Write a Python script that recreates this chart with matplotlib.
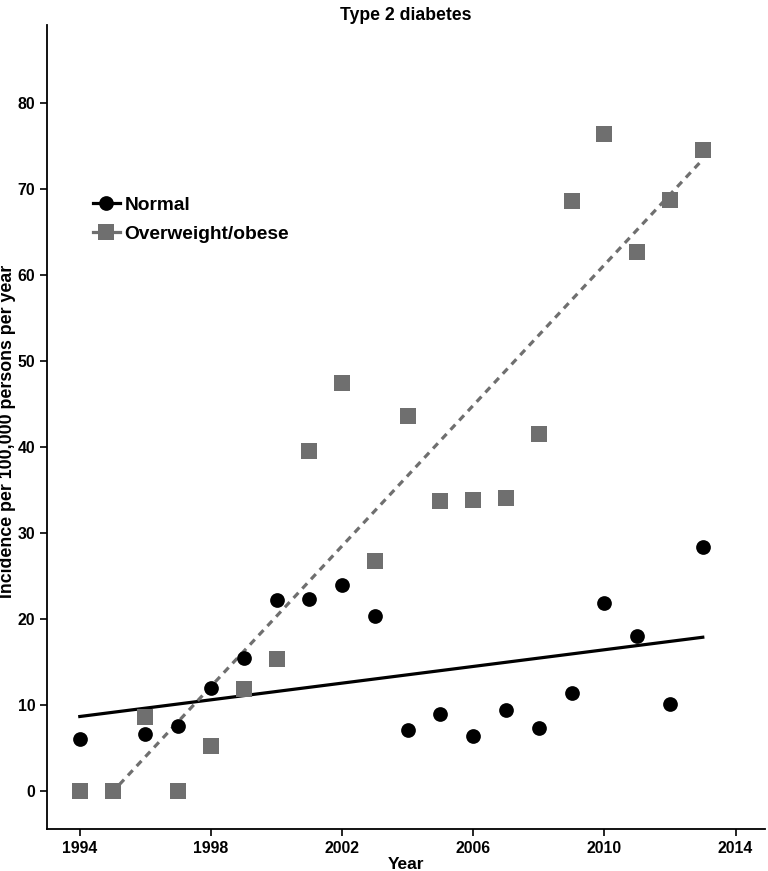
import numpy as np
import matplotlib
matplotlib.use("Agg")
import matplotlib.pyplot as plt

plt.rcParams['font.family'] = ['Liberation Sans', 'DejaVu Sans']
plt.rcParams['font.weight'] = 'bold'

years = np.arange(1994, 2014)
normal = [6.1, 0.0, 6.6, 7.6, 12.05, 15.5, 22.2, 22.3, 24.0, 20.4,
          7.1, 8.95, 6.4, 9.5, 7.4, 11.4, 21.9, 18.0, 10.1, 28.4]
overweight = [0.0, 0.0, 8.6, 0.0, 5.2, 11.9, 15.4, 39.6, 47.5, 26.8,
              43.6, 33.8, 33.9, 34.1, 41.5, 68.65, 76.4, 62.75, 68.8, 74.6]
xticks = [1994, 1998, 2002, 2006, 2010, 2014]
yticks = [0, 10, 20, 30, 40, 50, 60, 70, 80]

gray = '#6f6f6f'

fig = plt.figure(figsize=(7.68, 8.71), dpi=100)
ax = fig.add_axes([0.0612, 0.0482, 0.935, 0.923])

# linear fits like geom_smooth(method='lm'), values below 0 dropped
grid = np.linspace(years.min(), years.max(), 80)
fn = np.polyval(np.polyfit(years, normal, 1), grid)
fo = np.polyval(np.polyfit(years, overweight, 1), grid)
ax.plot(grid, fn, color='black', lw=2.3, zorder=2)
keep = fo >= 0
ax.plot(grid[keep], fo[keep], color=gray, lw=2.3, ls=(0, (2.2, 1.8)), zorder=2)

ax.plot(years, normal, 'o', color='black', ms=10.6, mew=0, zorder=3)
ax.plot(years, overweight, 's', color=gray, ms=11, mew=0, zorder=4)

# legend handles
h1, = ax.plot([], [], color='black', lw=2.3, marker='o', ms=10.6, mew=0)
h2, = ax.plot([], [], color=gray, lw=2.3, marker='s', ms=11, mew=0)
ax.legend([h1, h2], ['Normal', 'Overweight/obese'], loc='upper left',
          bbox_to_anchor=(0.04, 0.808), frameon=False, handlelength=1.4,
          handletextpad=0.25, labelspacing=0.6, prop={'size': 13.8, 'weight': 'bold'})

ax.set_xlim(1993.0, 2014.9)
ax.set_ylim(-4.4, 89.1)
ax.set_xticks(xticks)
ax.set_yticks(yticks)
ax.tick_params(labelsize=11.4, width=1.2, length=5, color='black')
for s in ['top', 'right']:
    ax.spines[s].set_visible(False)
for s in ['left', 'bottom']:
    ax.spines[s].set_linewidth(1.3)

ax.set_title('Type 2 diabetes', fontsize=12.7, fontweight='bold', pad=4)
ax.set_xlabel('Year', fontsize=12.5, fontweight='bold', va='baseline')
ax.xaxis.set_label_coords(0.5, -0.0495)
ax.set_ylabel('Incidence per 100,000 persons per year', fontsize=12.8,
              fontweight='bold', va='center')
ax.yaxis.set_label_coords(-0.0545, 0.494)

fig.savefig('out.png', dpi=100)
